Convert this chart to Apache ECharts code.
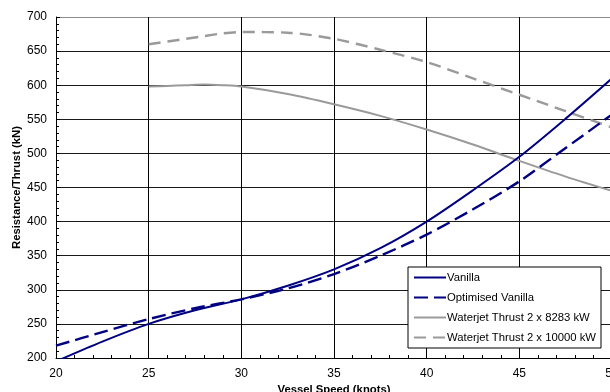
<!DOCTYPE html>
<html>
<head>
<meta charset="utf-8">
<script src="https://cdn.jsdelivr.net/npm/echarts@6/dist/echarts.min.js"></script>
<style>
  html, body { margin: 0; padding: 0; background: #fff; overflow: hidden; }
  #chart { width: 610px; height: 392px; }
</style>
</head>
<body>
<div id="chart"></div>
<script>
// Vessel speed (knots) and resistance / thrust (kN)
const speedsFull = [20, 22.5, 25, 27.5, 30, 32.5, 35, 37.5, 40, 42.5, 45, 47.5, 50];
const vanilla = [195, 224, 250, 270, 286, 306, 330, 361, 400, 446, 495, 551, 610];
const optimisedVanilla = [218, 238, 257, 273, 286, 302, 323, 350, 381, 418, 459, 508, 557];

const speedsJet = [25, 26, 27, 28, 29, 30, 32.5, 35, 37.5, 40, 42.5, 45, 47.5, 50];
const thrust8283 = [598, 599, 600, 601, 600, 598, 587, 572, 555, 535, 513, 489, 466, 445];
const thrust10000 = [660, 664, 668, 672, 676, 678, 677, 668, 652, 634, 610, 586, 562, 538];

const seriesNames = ['Vanilla', 'Optimised Vanilla', 'Waterjet Thrust 2 x 8283 kW', 'Waterjet Thrust 2 x 10000 kW'];

const pairs = (xs, ys) => xs.map((x, i) => [x, ys[i]]);

const chart = echarts.init(document.getElementById('chart'));
const font = 'Liberation Sans, Arial, sans-serif';

// horizontal grid lines: black, top border grey
const hColors = [];
for (let i = 0; i < 10; i++) hColors.push('#1a1a1a');
hColors.push('#8c8c8c');

chart.setOption({
  animation: false,
  backgroundColor: '#fff',
  grid: { left: 56, width: 556, top: 17, bottom: 34, containLabel: false, outerBoundsMode: 'none' },
  legend: {
    orient: 'vertical',
    left: 408, top: 267,
    itemWidth: 32, itemHeight: 10, itemGap: 9,
    padding: [5, 5, 5, 5],
    backgroundColor: '#fff',
    borderColor: '#000', borderWidth: 1, borderRadius: 0,
    itemStyle: { opacity: 0 },
    textStyle: { fontFamily: font, fontSize: 11.3, color: '#000', padding: [0, 0, 0, -4] },
    data: seriesNames
  },
  xAxis: {
    type: 'value', min: 20, max: 50, interval: 5,
    name: 'Vessel Speed (knots)', nameLocation: 'middle', nameGap: 26, nameMoveOverlap: false,
    nameTextStyle: { fontFamily: font, fontSize: 11.3, fontWeight: 'bold', color: '#000' },
    axisLine: { show: true, lineStyle: { color: '#000', width: 1 } },
    axisTick: { show: true, inside: true, length: 4, lineStyle: { color: '#000' } },
    minorTick: { show: true, splitNumber: 5, length: 3, lineStyle: { color: '#000' } },
    axisLabel: { fontFamily: font, fontSize: 12, color: '#000', margin: 10 },
    splitLine: { show: true, lineStyle: { color: '#000', width: 1 } }
  },
  yAxis: {
    type: 'value', min: 200, max: 700, interval: 50,
    name: 'Resistance/Thrust (kN)', nameLocation: 'middle', nameGap: 34, nameMoveOverlap: false,
    nameTextStyle: { fontFamily: font, fontSize: 11.3, fontWeight: 'bold', color: '#000' },
    axisLine: { show: true, lineStyle: { color: '#000', width: 1 } },
    axisTick: { show: true, inside: true, length: 4, lineStyle: { color: '#000' } },
    minorTick: { show: true, splitNumber: 5, length: 3, lineStyle: { color: '#000' } },
    axisLabel: { fontFamily: font, fontSize: 12, color: '#000', margin: 9 },
    splitLine: { show: true, lineStyle: { color: hColors, width: 1 } }
  },
  series: [
    {
      name: seriesNames[0], type: 'line', data: pairs(speedsFull, vanilla),
      smooth: 0.3, showSymbol: false, symbol: 'none', clip: true,
      lineStyle: { color: '#000080', width: 2, type: 'solid' },
      itemStyle: { color: '#000080' }, z: 4
    },
    {
      name: seriesNames[1], type: 'line', data: pairs(speedsFull, optimisedVanilla),
      smooth: 0.3, showSymbol: false, symbol: 'none', clip: true,
      lineStyle: { color: '#000080', width: 2.4, type: [14, 6] },
      itemStyle: { color: '#000080' }, z: 4
    },
    {
      name: seriesNames[2], type: 'line', data: pairs(speedsJet, thrust8283),
      smooth: 0.3, showSymbol: false, symbol: 'none', clip: true,
      lineStyle: { color: '#9a9a9a', width: 2, type: 'solid' },
      itemStyle: { color: '#9a9a9a' }, z: 3
    },
    {
      name: seriesNames[3], type: 'line', data: pairs(speedsJet, thrust10000),
      smooth: 0.3, showSymbol: false, symbol: 'none', clip: true,
      lineStyle: { color: '#9a9a9a', width: 2.4, type: [12, 7] },
      itemStyle: { color: '#9a9a9a' }, z: 3
    }
  ]
});
</script>
</body>
</html>
